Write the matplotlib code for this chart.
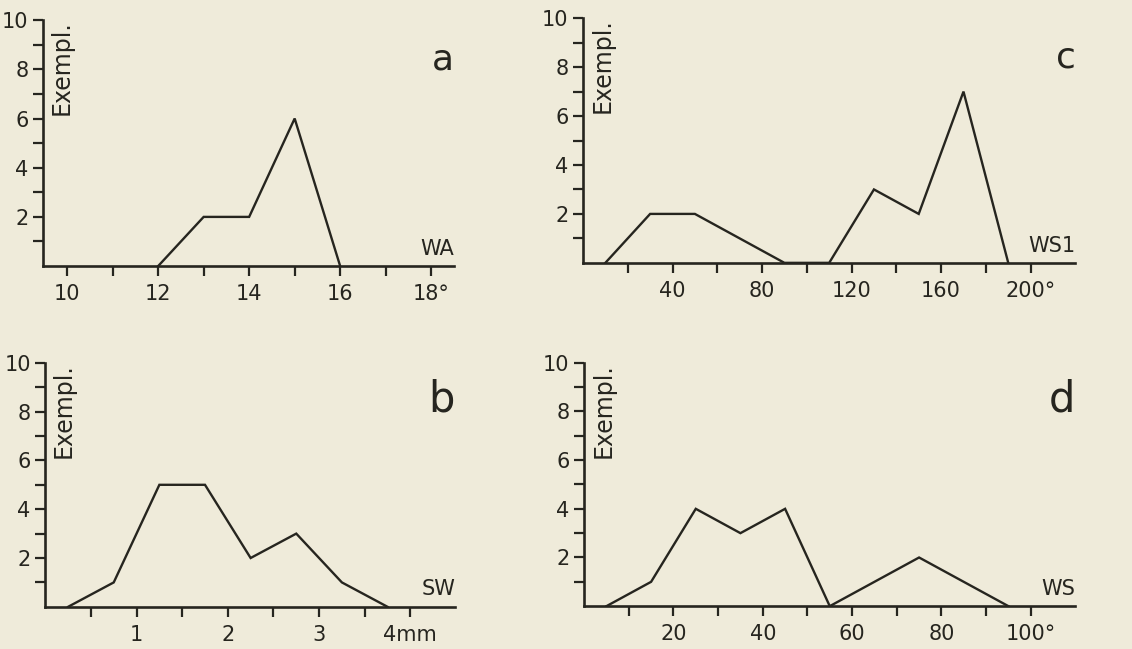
import matplotlib
matplotlib.use('Agg')
import matplotlib.pyplot as plt

plt.rcParams['font.family'] = ['DejaVu Sans']

# a: WA
wa_x = [12, 13, 14, 15, 16]
wa_y = [0, 2, 2, 6, 0]
# b: SW
sw_x = [0.25, 0.75, 1.25, 1.75, 2.25, 2.75, 3.25, 3.75]
sw_y = [0, 1, 5, 5, 2, 3, 1, 0]
# c: WS1
ws1_x = [10, 30, 50, 70, 90, 110, 130, 150, 170, 190]
ws1_y = [0, 2, 2, 1, 0, 0, 3, 2, 7, 0]
# d: WS
ws_x = [5, 15, 25, 35, 45, 55, 65, 75, 85, 95]
ws_y = [0, 1, 4, 3, 4, 0, 1, 2, 1, 0]

bg = '#efebda'
ink = '#26251f'

fig = plt.figure(figsize=(11.32, 6.49), dpi=100, facecolor=bg)


def panel(rect, xs, ys, xlim, xticks, xlabels, name, letter, lsize):
    ax = fig.add_axes(rect)
    ax.set_facecolor(bg)
    ax.plot(xs, ys, color=ink, linewidth=1.7, solid_joinstyle='miter')
    ax.set_xlim(*xlim)
    ax.set_ylim(0, 10)
    for s in ['top', 'right']:
        ax.spines[s].set_visible(False)
    for s in ['left', 'bottom']:
        ax.spines[s].set_linewidth(1.9)
        ax.spines[s].set_color(ink)
    ax.set_xticks(xticks)
    ax.set_xticklabels(xlabels)
    ax.set_yticks(range(1, 11))
    ax.set_yticklabels(['' if v % 2 else str(v) for v in range(1, 11)])
    ax.tick_params(direction='out', length=7, width=1.6, color=ink,
                   labelsize=15, labelcolor=ink)
    ax.tick_params(axis='x', pad=6)
    ax.text(0.015, 1.0, 'Exempl.', rotation=90, transform=ax.transAxes,
            ha='left', va='top', fontsize=17, color=ink)
    ax.text(1.0, 0.03, name, transform=ax.transAxes, ha='right',
            va='bottom', fontsize=15, color=ink)
    ax.text(1.0, 0.80, letter, transform=ax.transAxes, ha='right',
            va='baseline', fontsize=lsize, color=ink)
    return ax


panel([0.038, 0.590, 0.363, 0.379], wa_x, wa_y, (9.47, 18.5),
      list(range(10, 19)), ['10', '', '12', '', '14', '', '16', '', '18°'],
      'WA', 'a', 26)
panel([0.040, 0.065, 0.362, 0.376], sw_x, sw_y, (0, 4.49),
      [0.5, 1, 1.5, 2, 2.5, 3, 3.5, 4], ['', '1', '', '2', '', '3', '', '4mm'],
      'SW', 'b', 30)
panel([0.515, 0.595, 0.435, 0.377], ws1_x, ws1_y, (0, 220),
      list(range(20, 201, 20)),
      ['', '40', '', '80', '', '120', '', '160', '', '200°'],
      'WS1', 'c', 26)
panel([0.516, 0.066, 0.434, 0.375], ws_x, ws_y, (0, 110),
      list(range(10, 101, 10)),
      ['', '20', '', '40', '', '60', '', '80', '', '100°'],
      'WS', 'd', 30)

fig.savefig('out.png', dpi=100, facecolor=bg)
